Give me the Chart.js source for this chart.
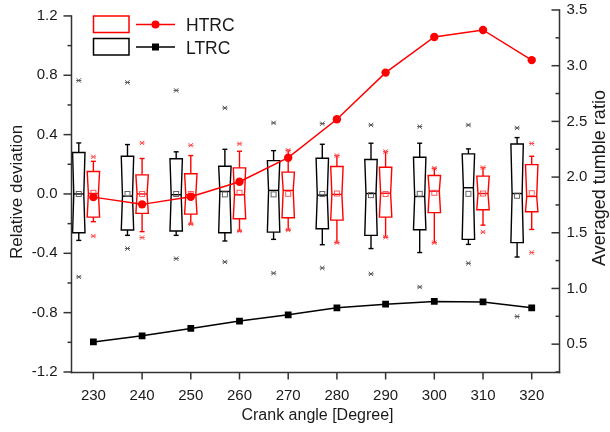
<!DOCTYPE html>
<html><head><meta charset="utf-8">
<script src="https://cdn.jsdelivr.net/npm/chart.js@4/dist/chart.umd.min.js"></script>
<style>html,body{margin:0;padding:0;background:#fff}#wrap{width:610px;height:432px;position:relative}</style>
</head><body><div id="wrap"><canvas id="c" width="610" height="432"></canvas></div>
<script>
// ---------- data ----------
const angles = [230, 240, 250, 260, 270, 280, 290, 300, 310, 320];
const htrcTumble = [1.82, 1.755, 1.823, 1.958, 2.174, 2.519, 2.938, 3.258, 3.321, 3.05];
const ltrcTumble = [0.52, 0.575, 0.641, 0.707, 0.763, 0.826, 0.859, 0.884, 0.879, 0.826];

// LTRC box statistics (relative deviation)
const ltrcWhiskerHigh = [0.344, 0.333, 0.284, 0.301, 0.292, 0.335, 0.342, 0.342, 0.304, 0.38];
const ltrcQ3 = [0.28, 0.254, 0.237, 0.187, 0.225, 0.241, 0.232, 0.247, 0.27, 0.337];
const ltrcMedian = [0.0, -0.015, -0.005, 0.017, 0.024, -0.008, 0.003, -0.017, 0.042, 0.003];
const ltrcQ1 = [-0.261, -0.243, -0.25, -0.261, -0.257, -0.234, -0.279, -0.241, -0.306, -0.328];
const ltrcWhiskerLow = [-0.313, -0.279, -0.279, -0.317, -0.306, -0.342, -0.368, -0.395, -0.34, -0.425];
const ltrcMean = [0.0, 0.0, 0.0, -0.003, -0.003, 0.0, -0.008, 0.001, 0.001, -0.012];
const ltrcOutHigh = [0.765, 0.752, 0.698, 0.58, 0.479, 0.474, 0.465, 0.454, 0.465, 0.445];
const ltrcOutLow = [-0.559, -0.368, -0.436, -0.458, -0.534, -0.499, -0.539, -0.627, -0.467, -0.826];

// HTRC box statistics (relative deviation)
const htrcWhiskerHigh = [0.22, 0.239, 0.259, 0.288, 0.294, 0.259, 0.286, 0.173, 0.178, 0.254];
const htrcQ3 = [0.151, 0.129, 0.136, 0.176, 0.147, 0.185, 0.18, 0.124, 0.12, 0.198];
const htrcMedian = [0.003, 0.0, -0.005, -0.005, 0.024, -0.003, 0.005, 0.019, 0.003, -0.017];
const htrcQ1 = [-0.156, -0.131, -0.136, -0.167, -0.16, -0.176, -0.156, -0.126, -0.106, -0.12];
const htrcWhiskerLow = [-0.187, -0.254, -0.203, -0.25, -0.243, -0.328, -0.292, -0.328, -0.21, -0.239];
const htrcMean = [0.008, 0.0, 0.0, 0.008, 0.001, 0.003, 0.0, 0.008, 0.003, 0.005];
const htrcOutHigh = [0.25, 0.344, 0.328, 0.338, 0.294, 0.259, 0.286, 0.173, 0.178, 0.34];
const htrcOutLow = [-0.284, -0.294, -0.203, -0.25, -0.243, -0.328, -0.292, -0.328, -0.257, -0.395];

const leftTicks = [-1.2, -0.8, -0.4, 0.0, 0.4, 0.8, 1.2];
const rightTicks = [0.5, 1.0, 1.5, 2.0, 2.5, 3.0, 3.5];
const xTicks = [230, 240, 250, 260, 270, 280, 290, 300, 310, 320];

// ---------- style ----------
const FONT = '"Liberation Sans", Arial, sans-serif';
const TXT = '#1a1a1a';
const AX = '#333';
const BOX_W = 2.55;       // box width in x units
const LTRC_OFF = -3.0;    // box offset in x units
const HTRC_OFF = 0.0;

const ltrcStats = {wh: ltrcWhiskerHigh, q3: ltrcQ3, med: ltrcMedian, q1: ltrcQ1, wl: ltrcWhiskerLow, mean: ltrcMean, oh: ltrcOutHigh, ol: ltrcOutLow};
const htrcStats = {wh: htrcWhiskerHigh, q3: htrcQ3, med: htrcMedian, q1: htrcQ1, wl: htrcWhiskerLow, mean: htrcMean, oh: htrcOutHigh, ol: htrcOutLow};

function seg(ctx, x1, y1, x2, y2) { ctx.beginPath(); ctx.moveTo(x1, y1); ctx.lineTo(x2, y2); ctx.stroke(); }

function drawX(ctx, x, y, color) {
  ctx.save(); ctx.strokeStyle = color; ctx.lineWidth = 1;
  const s = 2.2;
  seg(ctx, x - s, y - s, x + s, y + s);
  seg(ctx, x - s, y + s, x + s, y - s);
  seg(ctx, x - 2.6, y, x + 2.6, y);
  ctx.restore();
}

function drawBoxes(chart, st, off, color, faint) {
  const ctx = chart.ctx, xs = chart.scales.x, ys = chart.scales.y;
  ctx.save();
  angles.forEach((a, i) => {
    const cx = xs.getPixelForValue(a + off);
    const hw = (xs.getPixelForValue(a + off + BOX_W / 2) - xs.getPixelForValue(a + off - BOX_W / 2)) / 2;
    const yWh = ys.getPixelForValue(st.wh[i]), yQ3 = ys.getPixelForValue(st.q3[i]);
    const yMed = ys.getPixelForValue(st.med[i]), yQ1 = ys.getPixelForValue(st.q1[i]);
    const yWl = ys.getPixelForValue(st.wl[i]), yMean = ys.getPixelForValue(st.mean[i]);
    ctx.strokeStyle = color; ctx.lineWidth = 1.4;
    seg(ctx, cx, yQ3, cx, yWh); seg(ctx, cx, yQ1, cx, yWl);
    seg(ctx, cx - 2.5, yWh, cx + 2.5, yWh); seg(ctx, cx - 2.5, yWl, cx + 2.5, yWl);
    const n = 1.2;
    ctx.beginPath();
    ctx.moveTo(cx - hw, yQ3); ctx.lineTo(cx + hw, yQ3); ctx.lineTo(cx + hw - n, yMed);
    ctx.lineTo(cx + hw, yQ1); ctx.lineTo(cx - hw, yQ1); ctx.lineTo(cx - hw + n, yMed);
    ctx.closePath(); ctx.fillStyle = '#fff'; ctx.fill(); ctx.stroke();
    seg(ctx, cx - hw + n, yMed, cx + hw - n, yMed);
    ctx.lineWidth = 0.9; ctx.strokeStyle = faint;
    ctx.strokeRect(cx - 2.5, yMean - 2.5, 5, 5);
    drawX(ctx, cx, ys.getPixelForValue(st.oh[i]), faint);
    drawX(ctx, cx, ys.getPixelForValue(st.ol[i]), faint);
  });
  ctx.restore();
}

const boxPlugin = {
  id: 'boxes',
  beforeDatasetsDraw(chart) {
    drawBoxes(chart, ltrcStats, LTRC_OFF, '#000', '#555');
    drawBoxes(chart, htrcStats, HTRC_OFF, '#ff0000', '#ff4a4a');
  },
  afterDraw(chart) {
    const ctx = chart.ctx, xs = chart.scales.x, ys = chart.scales.y, y1 = chart.scales.y1;
    const ca = chart.chartArea;
    ctx.save();
    ctx.strokeStyle = AX; ctx.lineWidth = 1.5; ctx.lineCap = 'square';
    const L = Math.round(ca.left) + 0.5, R = Math.round(ca.right) + 0.5, B = Math.round(ca.bottom) + 0.5;
    // axis lines
    seg(ctx, L, ys.getPixelForValue(leftTicks[leftTicks.length - 1]), L, B);
    seg(ctx, R, ca.top, R, B);
    seg(ctx, L, B, R, B);
    ctx.lineCap = 'butt';
    // left ticks (outward)
    leftTicks.forEach((v, i) => {
      const p = ys.getPixelForValue(v); seg(ctx, L - 8, p, L, p);
      if (i < leftTicks.length - 1) { const m = ys.getPixelForValue((v + leftTicks[i + 1]) / 2); seg(ctx, L - 4, m, L, m); }
    });
    // right ticks (inward)
    rightTicks.forEach((v, i) => {
      const p = y1.getPixelForValue(v); seg(ctx, R - 8, p, R, p);
      const m = y1.getPixelForValue(v - 0.25); seg(ctx, R - 4, m, R, m);
    });
    // bottom ticks (outward)
    xTicks.forEach(v => { const p = xs.getPixelForValue(v); seg(ctx, p, B, p, B + 7); });

    // axis titles
    ctx.fillStyle = TXT;
    ctx.textAlign = 'center'; ctx.textBaseline = 'alphabetic';
    ctx.font = '16px ' + FONT;
    ctx.fillText('Crank angle [Degree]', (ca.left + ca.right) / 2 + 3, 420);
    ctx.save(); ctx.translate(22, 192); ctx.rotate(-Math.PI / 2);
    ctx.font = '17px ' + FONT; ctx.fillText('Relative deviation', 0, 0); ctx.restore();
    ctx.save(); ctx.translate(605, 178); ctx.rotate(-Math.PI / 2);
    ctx.font = '18px ' + FONT; ctx.fillText('Averaged tumble ratio', 0, 0); ctx.restore();

    // legend
    ctx.lineWidth = 1.5;
    ctx.strokeStyle = '#ff0000'; ctx.strokeRect(93.5, 16, 35.5, 16.5);
    seg(ctx, 136, 24.5, 175, 24.5);
    ctx.fillStyle = '#ff0000'; ctx.beginPath(); ctx.arc(155.5, 24.5, 4, 0, Math.PI * 2); ctx.fill();
    ctx.strokeStyle = '#000'; ctx.strokeRect(93.5, 38.5, 35.5, 16.5);
    seg(ctx, 136, 47, 175, 47);
    ctx.fillStyle = '#000'; ctx.fillRect(152, 43.5, 7, 7);
    ctx.fillStyle = TXT; ctx.textAlign = 'left'; ctx.font = '17.5px ' + FONT;
    ctx.fillText('HTRC', 186, 31); ctx.fillText('LTRC', 186, 54);
    ctx.restore();
  }
};

const fmt = v => Number(v).toFixed(1);

new Chart(document.getElementById('c'), {
  type: 'line',
  data: {
    datasets: [
      { label: 'HTRC', yAxisID: 'y1', data: angles.map((a, i) => ({x: a, y: htrcTumble[i]})),
        borderColor: '#ff0000', backgroundColor: '#ff0000', borderWidth: 1.5,
        pointStyle: 'circle', pointRadius: 4.2, pointBorderWidth: 0, tension: 0 },
      { label: 'LTRC', yAxisID: 'y1', data: angles.map((a, i) => ({x: a, y: ltrcTumble[i]})),
        borderColor: '#000', backgroundColor: '#000', borderWidth: 1.5,
        pointStyle: 'rect', pointRadius: 4.8, pointBorderWidth: 0, tension: 0 }
    ]
  },
  options: {
    responsive: false, animation: false, devicePixelRatio: 1,
    layout: { padding: { top: 10, left: 0, right: 0, bottom: 0 } },
    plugins: { legend: { display: false }, tooltip: { enabled: false } },
    scales: {
      x: {
        type: 'linear', min: 225.3, max: 325.5,
        grid: { display: false, drawTicks: false }, border: { display: false },
        afterBuildTicks: s => { s.ticks = xTicks.map(v => ({value: v})); },
        ticks: { font: { size: 15, family: FONT }, color: TXT, padding: 15, maxRotation: 0, callback: v => String(v) },
        afterFit: s => { s.height = 60; s.paddingLeft = 0; s.paddingRight = 0; }
      },
      y: {
        type: 'linear', position: 'left', min: -1.2, max: 1.24,
        grid: { display: false, drawTicks: false }, border: { display: false },
        afterBuildTicks: s => { s.ticks = leftTicks.map(v => ({value: v})); },
        ticks: { font: { size: 15, family: FONT }, color: TXT, padding: 13, callback: v => fmt(v) },
        afterFit: s => { s.width = 70.5; s.paddingTop = 0; s.paddingBottom = 0; }
      },
      y1: {
        type: 'linear', position: 'right', min: 0.25, max: 3.5,
        grid: { display: false, drawTicks: false }, border: { display: false },
        afterBuildTicks: s => { s.ticks = rightTicks.map(v => ({value: v})); },
        ticks: { font: { size: 15, family: FONT }, color: TXT, padding: 8, callback: v => fmt(v) },
        afterFit: s => { s.width = 51.5; s.paddingTop = 0; s.paddingBottom = 0; }
      }
    }
  },
  plugins: [boxPlugin]
});
</script>
</body></html>
